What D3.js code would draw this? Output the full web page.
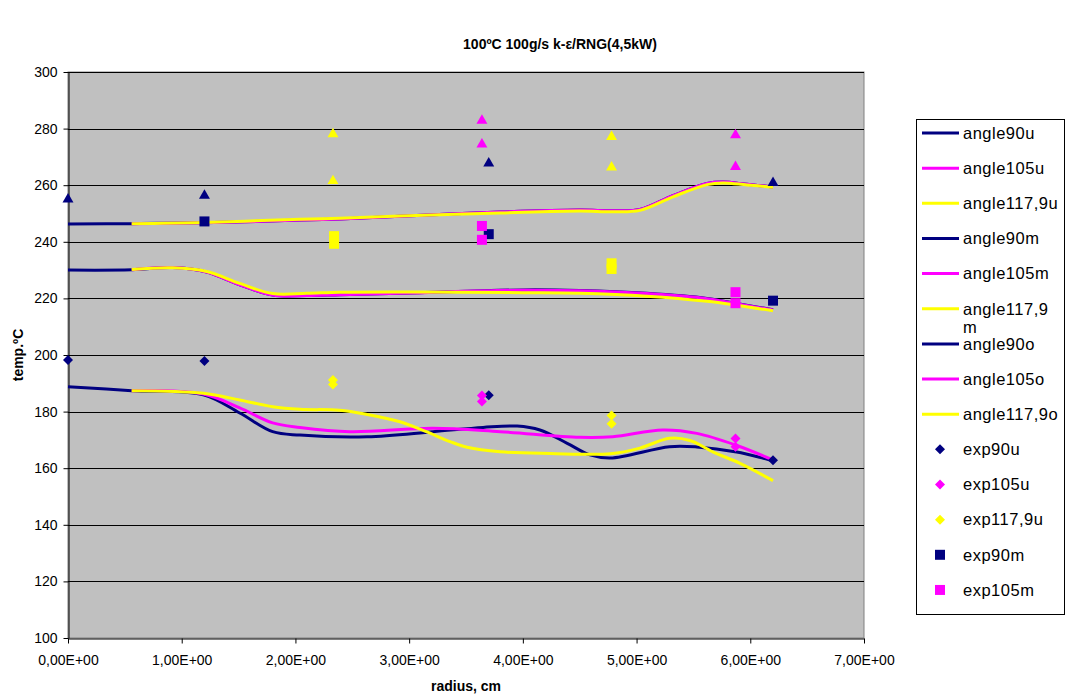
<!DOCTYPE html>
<html>
<head>
<meta charset="utf-8">
<script src="https://cdn.jsdelivr.net/npm/d3@7/dist/d3.min.js"></script>
<style>
  body { margin: 0; background: #fff; }
  text { font-family: Arial, "Liberation Sans", sans-serif; fill: #000; }
</style>
</head>
<body>
<script>
const titleText = '100ºC 100g/s k-ε/RNG(4,5kW)';
const xTitle = 'radius, cm';
const yTitle = 'temp.ºC';
const xTicks = [0, 1, 2, 3, 4, 5, 6, 7];
const yTicks = [100, 120, 140, 160, 180, 200, 220, 240, 260, 280, 300];

// simulated profiles (radius cm / temp C), lower group = u
const angle90uX = [0, 0.56, 1.19, 1.51, 1.8, 2.04, 2.63, 3.21, 3.65, 3.95, 4.15, 4.39, 4.59, 4.77, 5.29, 5.53, 5.88, 6.2];
const angle90uY = [188.8, 187.4, 185.9, 179.5, 172.9, 171.7, 171.1, 172.9, 174.4, 174.9, 173.5, 168.8, 164.7, 163.6, 167.6, 167.5, 165.7, 162.6];
const angle105uX = [0.56, 1.19, 1.51, 1.8, 2.04, 2.48, 3.21, 3.8, 4.5, 4.79, 5.23, 5.53, 5.87, 6.2];
const angle105uY = [187.4, 186.2, 181.3, 176.0, 174.4, 172.9, 174.1, 172.9, 170.9, 171.1, 173.5, 172.3, 168.2, 162.9];
const angle1179uX = [0.56, 1.19, 1.51, 1.8, 2.04, 2.39, 2.63, 2.92, 3.15, 3.36, 3.51, 3.8, 4.24, 4.77, 5.03, 5.29, 5.47, 5.67, 5.91, 6.2];
const angle1179uY = [187.4, 186.5, 184.1, 181.7, 180.8, 180.5, 179.0, 176.4, 172.9, 169.4, 167.4, 165.8, 165.2, 165.1, 167.1, 170.6, 169.8, 165.8, 161.7, 155.6];

// middle group = m
const angle90mX = [0, 0.56, 0.92, 1.22, 1.51, 1.8, 2.1, 2.39, 3.0, 4.0, 4.5, 5.09, 5.62, 5.88, 6.2];
const angle90mY = [230.0, 230.1, 230.9, 229.3, 224.8, 221.2, 221.0, 221.3, 221.9, 223.0, 222.8, 221.8, 220.0, 218.2, 216.0];
const angle105mX = [0.56, 0.92, 1.22, 1.51, 1.8, 2.1, 2.39, 3.0, 4.0, 4.5, 5.09, 5.62, 5.88, 6.2];
const angle105mY = [230.1, 230.9, 229.3, 224.8, 221.2, 221.0, 221.3, 221.9, 222.9, 222.7, 221.7, 219.9, 218.1, 215.9];
const angle1179mX = [0.56, 0.92, 1.22, 1.51, 1.8, 2.1, 2.39, 3.0, 4.0, 4.5, 5.09, 5.62, 5.88, 6.2];
const angle1179mY = [230.2, 230.8, 229.5, 225.3, 221.7, 221.8, 222.2, 222.3, 222.0, 221.8, 220.8, 219.0, 217.6, 215.6];

// upper group = o
const angle90oX = [0, 0.56, 1.19, 2.04, 2.39, 2.92, 3.8, 4.5, 4.79, 5.03, 5.32, 5.62, 5.76, 5.97, 6.2];
const angle90oY = [246.3, 246.4, 246.7, 247.7, 248.1, 249.0, 250.5, 251.2, 251.0, 251.4, 256.3, 260.6, 261.1, 260.3, 259.4];
const angle105oX = [0.56, 1.19, 2.04, 2.39, 2.92, 3.8, 4.5, 4.79, 5.03, 5.32, 5.62, 5.76, 5.97, 6.2];
const angle105oY = [246.4, 246.7, 247.7, 248.1, 249.0, 250.5, 251.2, 251.0, 251.4, 256.3, 260.6, 261.1, 260.3, 259.4];
const angle1179oX = [0.56, 1.19, 2.04, 2.39, 2.92, 3.8, 4.5, 4.79, 5.03, 5.32, 5.62, 5.76, 5.97, 6.2];
const angle1179oY = [246.4, 246.8, 248.0, 248.3, 249.1, 250.2, 250.9, 250.6, 251.1, 255.9, 260.2, 260.8, 260.1, 259.3];

// measurements
const exp90uX = [0, 1.2, 3.7, 6.2];
const exp90uY = [198.2, 197.9, 185.8, 162.8];
const exp105uX = [3.64, 3.64, 5.87, 5.87];
const exp105uY = [185.7, 183.6, 170.5, 167.6];
const exp1179uX = [2.33, 2.33, 4.78, 4.78];
const exp1179uY = [191.2, 189.6, 178.6, 175.7];
const exp90mX = [1.2, 3.7, 6.2];
const exp90mY = [247.2, 242.7, 219.2];
const exp105mX = [3.64, 3.64, 5.87, 5.87];
const exp105mY = [245.6, 240.7, 222.2, 218.3];
const exp1179mX = [2.34, 2.34, 4.78, 4.78];
const exp1179mY = [242.0, 239.3, 232.4, 230.4];
const exp90oX = [0, 1.2, 3.7, 6.2];
const exp90oY = [255.0, 256.3, 267.7, 260.8];
const exp105oX = [3.64, 3.64, 5.87, 5.87];
const exp105oY = [282.8, 274.4, 277.7, 266.5];
const exp1179oX = [2.33, 2.33, 4.78, 4.78];
const exp1179oY = [278.1, 261.5, 277.1, 266.3];

const NAVY = '#000080', MAGENTA = '#ff00ff', YELLOW = '#ffff00';

const lineSeries = [
    {name: 'angle90u', color: NAVY, xs: angle90uX, ys: angle90uY},
    {name: 'angle105u', color: MAGENTA, xs: angle105uX, ys: angle105uY},
    {name: 'angle117,9u', color: YELLOW, xs: angle1179uX, ys: angle1179uY},
    {name: 'angle90m', color: NAVY, xs: angle90mX, ys: angle90mY},
    {name: 'angle105m', color: MAGENTA, xs: angle105mX, ys: angle105mY},
    {name: 'angle117,9m', color: YELLOW, xs: angle1179mX, ys: angle1179mY},
    {name: 'angle90o', color: NAVY, xs: angle90oX, ys: angle90oY},
    {name: 'angle105o', color: MAGENTA, xs: angle105oX, ys: angle105oY},
    {name: 'angle117,9o', color: YELLOW, xs: angle1179oX, ys: angle1179oY}
];

const pointSeries = [
    {name: 'exp90u', color: NAVY, shape: 'diamond', xs: exp90uX, ys: exp90uY},
    {name: 'exp105u', color: MAGENTA, shape: 'diamond', xs: exp105uX, ys: exp105uY},
    {name: 'exp117,9u', color: YELLOW, shape: 'diamond', xs: exp1179uX, ys: exp1179uY},
    {name: 'exp90m', color: NAVY, shape: 'square', xs: exp90mX, ys: exp90mY},
    {name: 'exp105m', color: MAGENTA, shape: 'square', xs: exp105mX, ys: exp105mY},
    {name: 'exp117,9m', color: YELLOW, shape: 'square', xs: exp1179mX, ys: exp1179mY},
    {name: 'exp90o', color: NAVY, shape: 'triangle', xs: exp90oX, ys: exp90oY},
    {name: 'exp105o', color: MAGENTA, shape: 'triangle', xs: exp105oX, ys: exp105oY},
    {name: 'exp117,9o', color: YELLOW, shape: 'triangle', xs: exp1179oX, ys: exp1179oY}
];

// the legend box only has room for the first 14 entries
const legendLines = ['angle90u', 'angle105u', 'angle117,9u', 'angle90m', 'angle105m',
    ['angle117,9', 'm'], 'angle90o', 'angle105o', 'angle117,9o'];
const legendPoints = ['exp90u', 'exp105u', 'exp117,9u', 'exp90m', 'exp105m'];

const W = 1071, H = 699;
const plot = {left: 68, right: 864, top: 72, bottom: 638};

const svg = d3.select('body').append('svg').attr('width', W).attr('height', H);

const x = d3.scaleLinear().domain([0, 7]).range([plot.left, plot.right]);
const y = d3.scaleLinear().domain([100, 300]).range([plot.bottom, plot.top]);

// plot area
svg.append('rect')
    .attr('x', plot.left).attr('y', plot.top)
    .attr('width', plot.right - plot.left).attr('height', plot.bottom - plot.top)
    .style('fill', '#c0c0c0').style('stroke', '#808080').style('stroke-width', 1);

svg.append('g').selectAll('line')
    .data(yTicks.filter(d => d > 100))
    .join('line')
    .attr('x1', plot.left).attr('x2', plot.right)
    .attr('y1', d => Math.round(y(d)) + 0.5).attr('y2', d => Math.round(y(d)) + 0.5)
    .style('stroke', '#000').style('stroke-width', 1);

function sci(v) {
    const parts = v.toExponential(2).split('e');
    const n = +parts[1];
    return parts[0].replace('.', ',') + 'E' + (n < 0 ? '-' : '+') + String(Math.abs(n)).padStart(2, '0');
}

const xAxis = svg.append('g')
    .attr('transform', `translate(0,${plot.bottom + 0.5})`)
    .call(d3.axisBottom(x).tickValues(xTicks).tickFormat(sci).tickSize(5).tickSizeOuter(0));
xAxis.selectAll('text').style('font-size', '14px').attr('dy', '1.35em');

const yAxis = svg.append('g')
    .attr('transform', `translate(${plot.left + 0.5},0)`)
    .call(d3.axisLeft(y).tickValues(yTicks).tickSize(5).tickSizeOuter(0));
yAxis.selectAll('text').style('font-size', '14px').attr('x', -11);

[xAxis, yAxis].forEach(function (a) {
    a.selectAll('.domain, .tick line').style('stroke', '#000').style('stroke-width', 1);
    a.selectAll('text').style('font-family', 'Arial, "Liberation Sans", sans-serif').style('fill', '#000');
});

// simulated lines
const line = d3.line()
    .x(d => x(d[0])).y(d => y(d[1]))
    .curve(d3.curveCatmullRom.alpha(0.5));

svg.append('g').selectAll('path')
    .data(lineSeries)
    .join('path')
    .attr('d', s => line(s.xs.map((v, i) => [v, s.ys[i]])))
    .style('fill', 'none')
    .style('stroke', s => s.color)
    .style('stroke-width', 3)
    .style('stroke-linejoin', 'round')
    .style('stroke-linecap', 'butt');

// markers
const shapes = {
    diamond: d3.symbol().type(d3.symbolSquare).size(50),
    square: d3.symbol().type(d3.symbolSquare).size(100),
    triangle: d3.symbol().type(d3.symbolTriangle).size(52)
};
function markerTransform(shape, px, py) {
    return shape === 'diamond' ? `translate(${px},${py}) rotate(45)` : `translate(${px},${py})`;
}

pointSeries.forEach(function (s) {
    svg.append('g').selectAll('path')
        .data(s.xs.map((v, i) => [v, s.ys[i]]))
        .join('path')
        .attr('d', shapes[s.shape]())
        .attr('transform', d => markerTransform(s.shape, x(d[0]), y(d[1])))
        .style('fill', s.color);
});

// legend
const legend = svg.append('g');
legend.append('rect')
    .attr('x', 916.5).attr('y', 119.5).attr('width', 148).attr('height', 495)
    .style('fill', '#fff').style('stroke', '#000').style('stroke-width', 1);

const rowY = i => 133 + i * 35.15;
const legendFont = {size: '16.5px', spacing: '0.5px'};

legendLines.forEach(function (label, i) {
    const s = lineSeries[i];
    legend.append('line')
        .attr('x1', 922).attr('x2', 959).attr('y1', rowY(i)).attr('y2', rowY(i))
        .style('stroke', s.color).style('stroke-width', 3);
    const t = legend.append('text')
        .attr('x', 963).attr('y', rowY(i))
        .style('font-size', legendFont.size).style('letter-spacing', legendFont.spacing);
    const rows = Array.isArray(label) ? label : [label];
    rows.forEach(function (r, k) {
        t.append('tspan').attr('x', 963).attr('dy', k === 0 ? '0.35em' : '1.1em').text(r);
    });
});

legendPoints.forEach(function (label, j) {
    const s = pointSeries[j];
    const i = legendLines.length + j;
    legend.append('path')
        .attr('d', shapes[s.shape]())
        .attr('transform', markerTransform(s.shape, 940, rowY(i)))
        .style('fill', s.color);
    legend.append('text')
        .attr('x', 963).attr('y', rowY(i)).attr('dy', '0.35em')
        .style('font-size', legendFont.size).style('letter-spacing', legendFont.spacing)
        .text(label);
});

// titles
svg.append('text')
    .attr('x', 560).attr('y', 49)
    .attr('text-anchor', 'middle')
    .style('font-size', '14px').style('font-weight', 'bold')
    .text(titleText);

svg.append('text')
    .attr('x', (plot.left + plot.right) / 2).attr('y', 691)
    .attr('text-anchor', 'middle')
    .style('font-size', '14px').style('font-weight', 'bold')
    .text(xTitle);

svg.append('text')
    .attr('transform', `translate(23,${(plot.top + plot.bottom) / 2}) rotate(-90)`)
    .attr('text-anchor', 'middle')
    .style('font-size', '14px').style('font-weight', 'bold')
    .text(yTitle);
</script>
</body>
</html>
